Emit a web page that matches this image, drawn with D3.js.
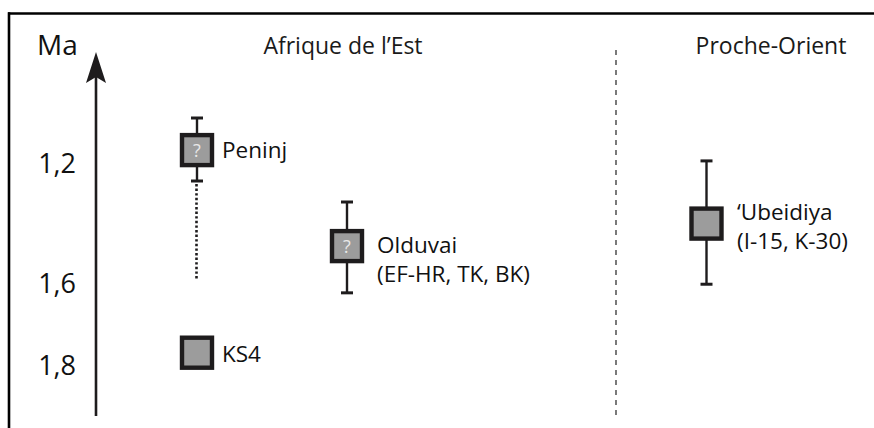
<!DOCTYPE html>
<html>
<head>
<meta charset="utf-8">
<script src="https://cdn.jsdelivr.net/npm/d3@7"></script>
<style>
  html, body { margin: 0; padding: 0; background: #fff; }
  svg { display: block; font-family: "Open Sans", "Noto Sans", sans-serif; }
</style>
</head>
<body>
<svg id="chart" width="874" height="428"></svg>
<script>
// ---- DATA ----
const regions = ["Afrique de l\u2019Est", "Proche-Orient"];
const sites = ["Peninj", "KS4", "Olduvai", "\u2018Ubeidiya"];
const siteRegion = ["Afrique de l\u2019Est", "Afrique de l\u2019Est", "Afrique de l\u2019Est", "Proche-Orient"];
const siteColumn = ["c1", "c1", "c2", "c3"];
const siteAge = [1.157, 1.77, 1.477, 1.402];       // Ma, central estimate
const siteAgeMin = [1.05, null, 1.33, 1.193];      // younger bound
const siteAgeMax = [1.26, null, 1.624, 1.603];     // older bound
const siteExtended = [1.59, null, null, null];     // dotted extension (older)
const siteUncertain = [true, false, true, false];  // "?" marker
const siteSubLabel = [null, null, "(EF-HR, TK, BK)", "(I-15, K-30)"];
const tickValues = [1.2, 1.6, 1.8];
const tickLabels = ["1,2", "1,6", "1,8"];
const axisTitle = "Ma";

// ---- LAYOUT ----
const svg = d3.select("#chart");
const y = d3.scaleLinear().domain([1.2, 1.6, 1.8]).range([163, 283, 365]);
const x = d3.scaleOrdinal().domain(["c1", "c2", "c3"]).range([197, 347, 706.5]);
const regionX = d3.scaleOrdinal().domain(regions).range([343, 771]);
const labelX = d3.scaleOrdinal().domain(["c1", "c2", "c3"]).range([222, 377, 737]);
const dividerX = 616;
const axisX = 96, axisTop = 52, axisBottom = 416;
const boxSize = 30, capW = 12;
const ink = "#1e1c1d";
const labelDy = { "Peninj": 8, "KS4": 9.5, "Olduvai": 7, "\u2018Ubeidiya": -3.5 };

// frame (top + left)
svg.append("line").attr("x1", 8).attr("x2", 874).attr("y1", 13.5).attr("y2", 13.5)
  .attr("stroke", "#000").attr("stroke-width", 2.6);
svg.append("line").attr("x1", 9).attr("x2", 9).attr("y1", 12.2).attr("y2", 428)
  .attr("stroke", "#000").attr("stroke-width", 2.6);

// region headers
svg.selectAll("text.region").data(regions).join("text")
  .attr("class", "region")
  .attr("x", d => regionX(d)).attr("y", 54)
  .attr("text-anchor", "middle")
  .attr("font-size", 23).attr("fill", "#1a1a1a")
  .text(d => d);

// divider
svg.append("line").attr("x1", dividerX).attr("x2", dividerX).attr("y1", 50).attr("y2", 416)
  .attr("stroke", "#333").attr("stroke-width", 1.3).attr("stroke-dasharray", "5,5");

// axis arrow
svg.append("line").attr("x1", axisX).attr("x2", axisX).attr("y1", axisTop + 20).attr("y2", axisBottom)
  .attr("stroke", ink).attr("stroke-width", 2.6);
svg.append("path")
  .attr("d", `M${axisX},${axisTop} L${axisX + 10},${axisTop + 31} L${axisX},${axisTop + 25} L${axisX - 10},${axisTop + 31} Z`)
  .attr("fill", ink);

// axis title
svg.append("text").attr("x", 37).attr("y", 55)
  .attr("font-size", 28).attr("fill", "#111").text(axisTitle);

// tick labels via d3 axis
const axisG = svg.append("g").attr("transform", `translate(76,0)`)
  .call(d3.axisLeft(y).tickValues(tickValues).tickSize(0).tickPadding(0)
    .tickFormat((d, i) => tickLabels[i]));
axisG.select(".domain").remove();
axisG.selectAll("text").attr("font-size", 27).attr("fill", "#111")
  .attr("font-family", "\"Open Sans\", sans-serif").attr("dy", "0.36em");

// build site records
const data = sites.map((s, i) => ({
  name: s, region: siteRegion[i], col: siteColumn[i], age: siteAge[i],
  lo: siteAgeMin[i], hi: siteAgeMax[i], ext: siteExtended[i],
  q: siteUncertain[i], sub: siteSubLabel[i]
}));

const g = svg.append("g");

// dotted extension
g.selectAll("line.ext").data(data.filter(d => d.ext != null)).join("line")
  .attr("class", "ext")
  .attr("x1", d => x(d.col) - 0.5).attr("x2", d => x(d.col) - 0.5)
  .attr("y1", d => y(d.hi) + 3).attr("y2", d => y(d.ext))
  .attr("stroke", ink).attr("stroke-width", 2.6).attr("stroke-dasharray", "2.4,2.2");

// whiskers
const wd = data.filter(d => d.lo != null);
g.selectAll("line.whisk").data(wd).join("line")
  .attr("class", "whisk")
  .attr("x1", d => x(d.col)).attr("x2", d => x(d.col))
  .attr("y1", d => y(d.lo)).attr("y2", d => y(d.hi))
  .attr("stroke", ink).attr("stroke-width", 2.4);
g.selectAll("line.capTop").data(wd).join("line")
  .attr("class", "capTop")
  .attr("x1", d => x(d.col) - capW / 2).attr("x2", d => x(d.col) + capW / 2)
  .attr("y1", d => y(d.lo)).attr("y2", d => y(d.lo))
  .attr("stroke", ink).attr("stroke-width", 3);
g.selectAll("line.capBot").data(wd).join("line")
  .attr("class", "capBot")
  .attr("x1", d => x(d.col) - capW / 2).attr("x2", d => x(d.col) + capW / 2)
  .attr("y1", d => y(d.hi)).attr("y2", d => y(d.hi))
  .attr("stroke", ink).attr("stroke-width", 3);

// boxes
g.selectAll("rect.box").data(data).join("rect")
  .attr("class", "box")
  .attr("x", d => x(d.col) - boxSize / 2).attr("y", d => y(d.age) - boxSize / 2)
  .attr("width", boxSize).attr("height", boxSize)
  .attr("fill", "#9c9c9c").attr("stroke", ink).attr("stroke-width", 4.4);

// question marks
g.selectAll("text.q").data(data.filter(d => d.q)).join("text")
  .attr("class", "q")
  .attr("x", d => x(d.col)).attr("y", d => y(d.age) + 6.5)
  .attr("text-anchor", "middle").attr("font-size", 18).attr("fill", "#e8e8e8")
  .text("?");

// labels
g.selectAll("text.lab").data(data).join("text")
  .attr("class", "lab")
  .attr("x", d => labelX(d.col))
  .attr("y", d => y(d.age) + labelDy[d.name])
  .attr("font-size", 22.5).attr("fill", "#111")
  .text(d => d.name);
g.selectAll("text.sub").data(data.filter(d => d.sub)).join("text")
  .attr("class", "sub")
  .attr("x", d => labelX(d.col))
  .attr("y", d => y(d.age) + labelDy[d.name] + 29)
  .attr("font-size", 22.5).attr("fill", "#111")
  .text(d => d.sub);
</script>
</body>
</html>
